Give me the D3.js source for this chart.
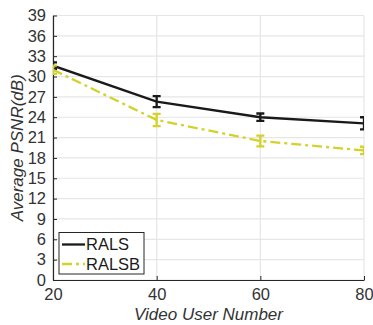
<!DOCTYPE html>
<html>
<head>
<meta charset="utf-8">
<script src="https://cdn.jsdelivr.net/npm/d3@7"></script>
<style>
  html, body { margin: 0; padding: 0; background: #fff; }
  text { font-family: "Liberation Sans", Arial, sans-serif; fill: #262626; }
</style>
</head>
<body>
<div id="chart"></div>
<script>
// data
var users = [20, 40, 60, 80];
var ralsMean = [31.6, 26.3, 24.0, 23.1];
var ralsErr  = [0.5, 0.8, 0.55, 0.9];
var ralsbMean = [31.0, 23.6, 20.5, 19.1];
var ralsbErr  = [0.6, 0.9, 0.8, 0.55];
var xTicks = [20, 40, 60, 80];
var yTicks = d3.range(0, 40, 3);

var series = [
  {name: "RALS",  mean: ralsMean,  err: ralsErr,  color: "#1a1a1a", dash: null},
  {name: "RALSB", mean: ralsbMean, err: ralsbErr, color: "#d2d22a", dash: "10,4,3,4"}
];

var W = 373, H = 325;
var m = {left: 53, right: 9, top: 15.5, bottom: 45};

var svg = d3.select("#chart").append("svg").attr("width", W).attr("height", H);

var x = d3.scaleLinear().domain([20, 80]).range([m.left, W - m.right]);
var y = d3.scaleLinear().domain([0, 39]).range([H - m.bottom, m.top]);

svg.append("defs").append("clipPath").attr("id", "clip")
   .append("rect").attr("x", m.left).attr("y", m.top)
   .attr("width", W - m.left - m.right).attr("height", H - m.top - m.bottom);

//GRID
var grid = svg.append("g");
grid.selectAll("line.h").data(yTicks).enter().append("line")
    .attr("x1", m.left).attr("x2", W - m.right)
    .attr("y1", function(d){ return y(d); }).attr("y2", function(d){ return y(d); })
    .style("stroke", "#e6e6e6").style("stroke-width", 1.2);
grid.selectAll("line.v").data(xTicks).enter().append("line")
    .attr("y1", m.top).attr("y2", H - m.bottom)
    .attr("x1", function(d){ return x(d); }).attr("x2", function(d){ return x(d); })
    .style("stroke", "#e6e6e6").style("stroke-width", 1.2);

//AXES
var xAxis = svg.append("g").attr("transform", "translate(0," + (H - m.bottom) + ")")
    .call(d3.axisBottom(x).tickValues(xTicks).tickSizeInner(-4).tickSizeOuter(0).tickPadding(8));
var yAxis = svg.append("g").attr("transform", "translate(" + m.left + ",0)")
    .call(d3.axisLeft(y).tickValues(yTicks).tickSizeInner(-4).tickSizeOuter(0).tickPadding(7));
[xAxis, yAxis].forEach(function(a){
  a.select(".domain").style("stroke", "#262626").style("stroke-width", 1.2);
  a.selectAll(".tick line").style("stroke", "#262626");
  a.selectAll("text").style("font-size", "16.5px").style("fill", "#333")
   .style("font-family", "'Liberation Sans', Arial, sans-serif");
});

//LINES + ERROR BARS
var plot = svg.append("g").attr("clip-path", "url(#clip)");
var line = d3.line().x(function(d){ return x(d[0]); }).y(function(d){ return y(d[1]); })
             .curve(d3.curveLinear);

series.forEach(function(s){
  var pts = users.map(function(u, i){ return [u, s.mean[i], s.err[i]]; });
  plot.append("path").datum(pts).attr("d", line)
      .style("fill", "none").style("stroke", s.color).style("stroke-width", 2.3)
      .style("stroke-dasharray", s.dash);
  var eb = plot.selectAll(null).data(pts).enter().append("g").style("stroke", s.color).style("stroke-width", 2.3);
  eb.append("line").attr("x1", function(d){ return x(d[0]); }).attr("x2", function(d){ return x(d[0]); })
    .attr("y1", function(d){ return y(d[1] - d[2]); }).attr("y2", function(d){ return y(d[1] + d[2]); });
  [-1, 1].forEach(function(sg){
    eb.append("line").attr("x1", function(d){ return x(d[0]) - 4; }).attr("x2", function(d){ return x(d[0]) + 4; })
      .attr("y1", function(d){ return y(d[1] + sg * d[2]); }).attr("y2", function(d){ return y(d[1] + sg * d[2]); });
  });
});

//LABELS
svg.append("text").attr("x", (m.left + W - m.right) / 2).attr("y", 320)
   .attr("text-anchor", "middle").style("font-size", "17px").style("font-style", "italic").style("fill", "#333")
   .text("Video User Number");
svg.append("text").attr("transform", "translate(23," + ((m.top + H - m.bottom) / 2) + ") rotate(-90)")
   .attr("text-anchor", "middle").style("font-size", "17px").style("font-style", "italic").style("fill", "#333")
   .text("Average PSNR(dB)");

//LEGEND
var lg = svg.append("g").attr("transform", "translate(59,232.5)");
lg.append("rect").attr("width", 85).attr("height", 41.5)
  .style("fill", "#fff").style("stroke", "#262626").style("stroke-width", 1);
series.forEach(function(s, i){
  var yy = 12 + i * 19.5;
  lg.append("line").attr("x1", 3).attr("x2", 26).attr("y1", yy).attr("y2", yy)
    .style("stroke", s.color).style("stroke-width", 2.3).style("stroke-dasharray", s.dash);
  lg.append("text").attr("x", 27).attr("y", yy).attr("dy", "0.36em")
    .style("font-size", "16.5px").style("fill", "#1a1a1a").text(s.name);
});
</script>
</body>
</html>
